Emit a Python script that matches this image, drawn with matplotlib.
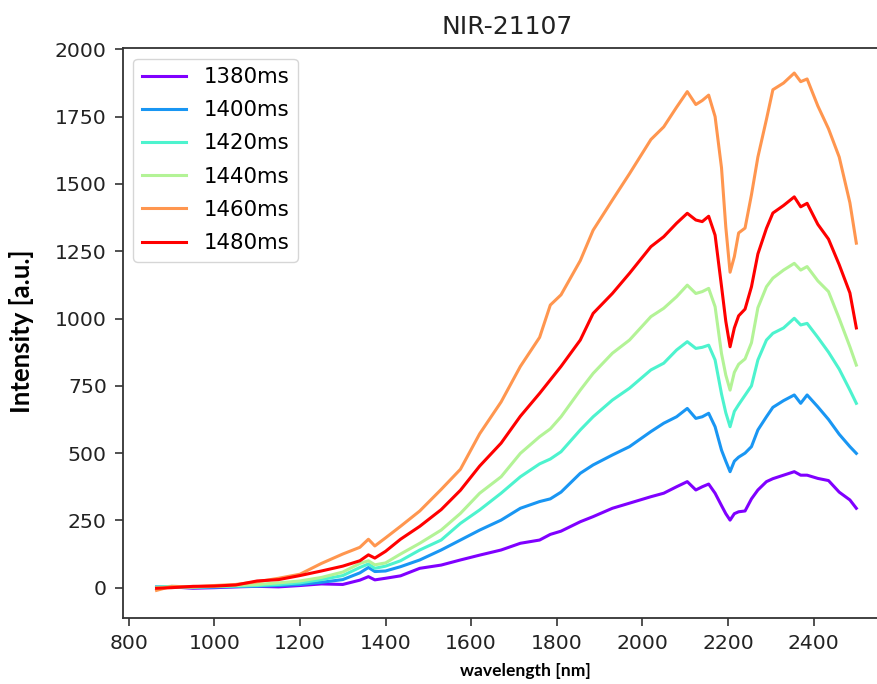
import numpy as np
import matplotlib

matplotlib.use("Agg")
import matplotlib.pyplot as plt

# wavelength grid (nm) shared by all integration times
wavelength = [865, 900, 950, 1000, 1050, 1100, 1150, 1200, 1250, 1300,
              1340, 1360, 1375, 1400, 1435, 1480, 1530, 1575, 1620, 1670,
              1715, 1760, 1785, 1810, 1855, 1885, 1930, 1970, 2020, 2050,
              2080, 2105, 2125, 2140, 2155, 2170, 2185, 2195, 2205, 2215,
              2225, 2240, 2255, 2270, 2290, 2305, 2330, 2355, 2370, 2385,
              2410, 2435, 2460, 2485, 2500]

labels = ["1380ms", "1400ms", "1420ms", "1440ms", "1460ms", "1480ms"]

i_1380 = [0, 3, -2, 0, 3, 5, 3, 8, 14, 12,
          28, 41, 29, 35, 44, 72, 84, 103, 121, 140,
          165, 177, 198, 210, 245, 264, 295, 314, 338, 351,
          375, 394, 363, 375, 385, 351, 305, 275, 251, 275,
          282, 285, 330, 363, 394, 405, 418, 431, 418, 418,
          406, 398, 355, 326, 295]

i_1400 = [3, 2, 0, 2, 4, 6, 8, 12, 20, 30,
          55, 75, 60, 62, 78, 103, 140, 177, 214, 251,
          295, 320, 330, 355, 425, 456, 493, 524, 580, 611,
          635, 666, 629, 635, 648, 598, 511, 470, 431, 470,
          485, 500, 524, 586, 635, 670, 695, 716, 685, 716,
          672, 625, 570, 524, 499]

i_1420 = [2, 5, 3, 4, 6, 8, 12, 18, 30, 45,
          75, 88, 72, 80, 100, 140, 177, 239, 289, 351,
          412, 460, 478, 505, 586, 635, 697, 741, 809, 834,
          883, 914, 889, 893, 901, 846, 720, 650, 598, 655,
          680, 715, 750, 846, 920, 945, 965, 1001, 976, 982,
          930, 875, 812, 734, 685]

i_1440 = [0, 3, 2, 5, 8, 12, 18, 25, 38, 58,
          90, 100, 85, 92, 125, 165, 214, 276, 351, 412,
          499, 561, 590, 635, 734, 796, 871, 920, 1007, 1038,
          1081, 1124, 1093, 1100, 1112, 1044, 870, 790, 734, 800,
          830, 850, 910, 1040, 1118, 1150, 1180, 1205, 1180, 1193,
          1140, 1100, 1000, 895, 827]

i_1460 = [-10, 5, 3, 8, 12, 22, 35, 50, 90, 125,
          150, 180, 155, 185, 228, 285, 365, 440, 572, 690,
          822, 930, 1050, 1088, 1215, 1328, 1440, 1538, 1665, 1712,
          1785, 1843, 1795, 1810, 1830, 1750, 1560, 1340, 1172, 1230,
          1318, 1336, 1460, 1600, 1740, 1850, 1875, 1912, 1880, 1890,
          1790, 1705, 1600, 1430, 1280]

i_1480 = [-2, 0, 5, 6, 10, 25, 30, 45, 62, 80,
          100, 122, 110, 135, 180, 228, 290, 362, 452, 537,
          637, 722, 772, 822, 920, 1019, 1093, 1168, 1267, 1304,
          1354, 1391, 1366, 1360, 1380, 1310, 1120, 990, 895, 965,
          1010, 1035, 1118, 1240, 1335, 1392, 1420, 1452, 1415, 1428,
          1350, 1295, 1200, 1095, 965]

spectra = [i_1380, i_1400, i_1420, i_1440, i_1460, i_1480]
colors = plt.cm.rainbow(np.linspace(0, 1, len(spectra)))

fig = plt.figure(figsize=(8.78, 6.84), dpi=100)
ax = fig.add_axes([0.1398, 0.0965, 0.875, 0.8333])

for values, label, color in zip(spectra, labels, colors):
    ax.plot(wavelength, values, color=color, lw=2.2, label=label)

ax.set_xlim(786, 2581)
ax.set_ylim(-112.6, 2005)
ax.set_xticks(range(800, 2401, 200))
ax.set_yticks(range(0, 2001, 250))
ax.tick_params(labelsize=14.7, length=5.5, width=1.2, pad=6,
               colors="#333333", labelcolor="#222222")
for side in ax.spines.values():
    side.set_linewidth(1.3)
    side.set_color("#333333")
# the plotting area runs past the right border of the image
ax.spines["right"].set_visible(False)

ax.set_title("NIR-21107", fontsize=18, color="#222222", pad=10)
ax.legend(loc="upper left", fontsize=15.3, handlelength=2.1,
          labelspacing=0.62)

fig.text(0.025, 0.516, "Intensity [a.u.]", rotation=90, ha="center",
         va="center", fontsize=18.5, fontweight="bold", family="Lato")
fig.text(0.598, 0.008, "wavelength [nm]", ha="center", va="bottom",
         fontsize=12.6, fontweight="bold", family="Lato")

fig.savefig("out.png", dpi=100)
